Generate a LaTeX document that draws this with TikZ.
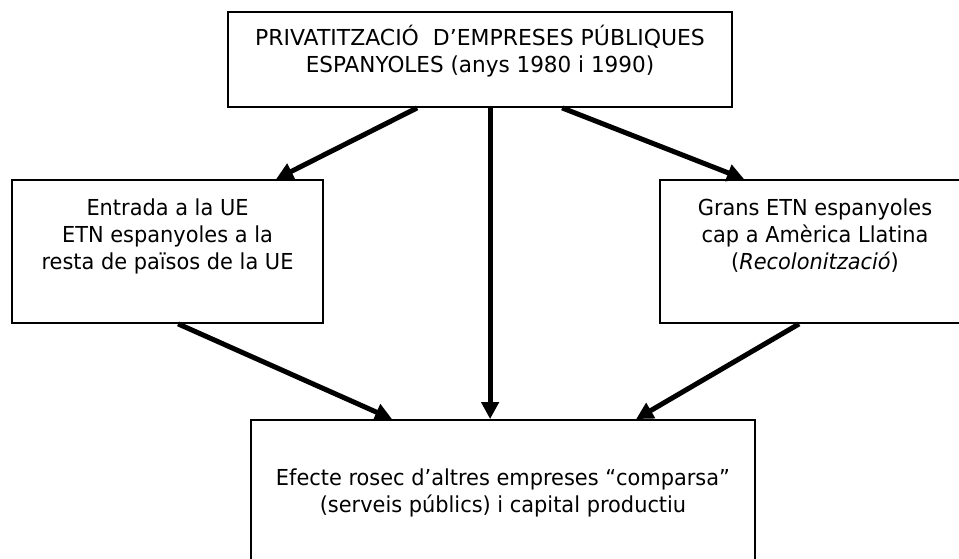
\documentclass[tikz,border=0pt]{standalone}
\usepackage{fontspec}
\setmainfont{DejaVu Sans}[FakeStretch=0.95]
\usetikzlibrary{arrows.meta,calc}
\begin{document}
\begin{tikzpicture}[x=1pt,y=-1pt,
  boxnode/.style={draw=black,line width=1.8pt,rectangle,inner sep=0pt},
  txt/.style={anchor=base,inner sep=0pt,font=\fontsize{22}{27}\selectfont},
  conn/.style={line width=5pt,-{Triangle[length=17pt,width=17pt]}}]
\useasboundingbox (0,0) rectangle (959,559);
% boxes
\node[boxnode,minimum width=504pt,minimum height=95pt] (top) at (480,59.5) {};
\node[boxnode,minimum width=311pt,minimum height=143pt] (left) at (167.5,251.5) {};
\node[boxnode,minimum width=311pt,minimum height=143pt] (right) at (815.5,251.5) {};
\node[boxnode,minimum width=504pt,minimum height=180pt] (bot) at (503,510) {};
% texts
\node[txt] (t1) at (480,46) {\scalebox{1.05}[1]{PRIVATITZACIÓ\ \ D’EMPRESES PÚBLIQUES}};
\node[txt] (t2) at (480,73) {\scalebox{1.03}[1]{ESPANYOLES (anys 1980 i 1990)}};
\node[txt] (l1) at (167.5,215) {Entrada a la UE};
\node[txt] (l2) at (167.5,242) {ETN espanyoles a la};
\node[txt] (l3) at (167.5,269) {resta de països de la UE};
\node[txt] (r1) at (815,215) {Grans ETN espanyoles};
\node[txt] (r2) at (815,242) {cap a Amèrica Llatina};
\node[txt] (r3) at (815,269) {(\textit{Recolonització})};
\node[txt] (b1) at (503,485) {Efecte rosec d’altres empreses “comparsa”};
\node[txt] (b2) at (503,512) {(serveis públics) i capital productiu};
% connectors
\draw[conn] ($(top.south west)+(190,0)$) -- ($(left.north west)+(265,0)$);
\draw[conn] ($(top.south west)+(263,0)$) -- ($(bot.north west)+(240,0)$);
\draw[conn] ($(top.south west)+(335,0)$) -- ($(right.north west)+(85,0)$);
\draw[conn] ($(left.south west)+(167,0)$) -- ($(bot.north west)+(142,0)$);
\draw[conn] ($(right.south west)+(140,0)$) -- ($(bot.north west)+(386,0)$);
\end{tikzpicture}
\end{document}
